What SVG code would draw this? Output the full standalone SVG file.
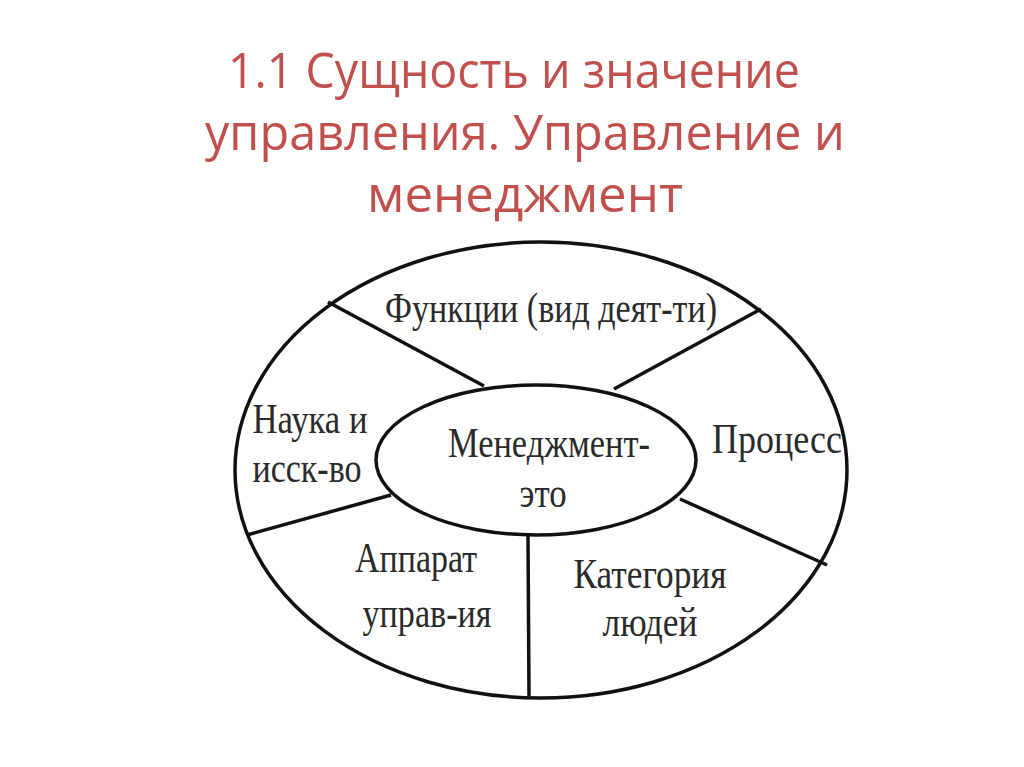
<svg xmlns="http://www.w3.org/2000/svg" width="1024" height="767" viewBox="0 0 1024 767">
<style>
.title{font-family:"Open Sans","Liberation Sans",sans-serif;font-size:50px;fill:#c0504d;text-anchor:middle}
.lbl{font-family:"Liberation Serif","DejaVu Serif",serif;font-size:42px;fill:#2a2a2a;text-anchor:middle}
.shape{fill:none;stroke:#111;stroke-width:3.5}
.conn{stroke:#111;stroke-width:3.5;fill:none}
</style>
<rect width="1024" height="767" fill="#fff"/>
<g id="title">
<text class="title" x="514" y="88" textLength="572" lengthAdjust="spacingAndGlyphs">1.1 Сущность и значение</text>
<text class="title" x="525" y="150" textLength="640" lengthAdjust="spacingAndGlyphs">управления. Управление и</text>
<text class="title" x="525" y="212" textLength="316" lengthAdjust="spacingAndGlyphs">менеджмент</text>
</g>
<g id="outer"><ellipse class="shape" cx="541" cy="470" rx="306" ry="228"/></g>
<g id="connectors">
<line class="conn" x1="328" y1="302" x2="484" y2="386"/>
<line class="conn" x1="761" y1="309" x2="614" y2="389"/>
<line class="conn" x1="247" y1="535" x2="391" y2="495"/>
<line class="conn" x1="680" y1="499" x2="827" y2="565"/>
<line class="conn" x1="528" y1="536" x2="529" y2="696"/>
</g>
<g id="center"><ellipse class="shape" cx="536" cy="460" rx="160" ry="75" fill="#fff"/>
<text class="lbl" x="549" y="457" textLength="202" lengthAdjust="spacingAndGlyphs">Менеджмент-</text>
<text class="lbl" x="543" y="507" textLength="47" lengthAdjust="spacingAndGlyphs">это</text></g>
<g id="functions"><text class="lbl" x="551" y="322" textLength="332" lengthAdjust="spacingAndGlyphs">Функции (вид деят-ти)</text></g>
<g id="science"><text class="lbl" x="310" y="433" textLength="115" lengthAdjust="spacingAndGlyphs">Наука и</text><text class="lbl" x="307" y="482" textLength="109" lengthAdjust="spacingAndGlyphs">исск-во</text></g>
<g id="process"><text class="lbl" x="777" y="453" textLength="130" lengthAdjust="spacingAndGlyphs">Процесс</text></g>
<g id="apparatus"><text class="lbl" x="416" y="572" textLength="122" lengthAdjust="spacingAndGlyphs">Аппарат</text><text class="lbl" x="427" y="627" textLength="129" lengthAdjust="spacingAndGlyphs">управ-ия</text></g>
<g id="category"><text class="lbl" x="650" y="588" textLength="153" lengthAdjust="spacingAndGlyphs">Категория</text><text class="lbl" x="650" y="636" textLength="95" lengthAdjust="spacingAndGlyphs">людей</text></g>
</svg>
